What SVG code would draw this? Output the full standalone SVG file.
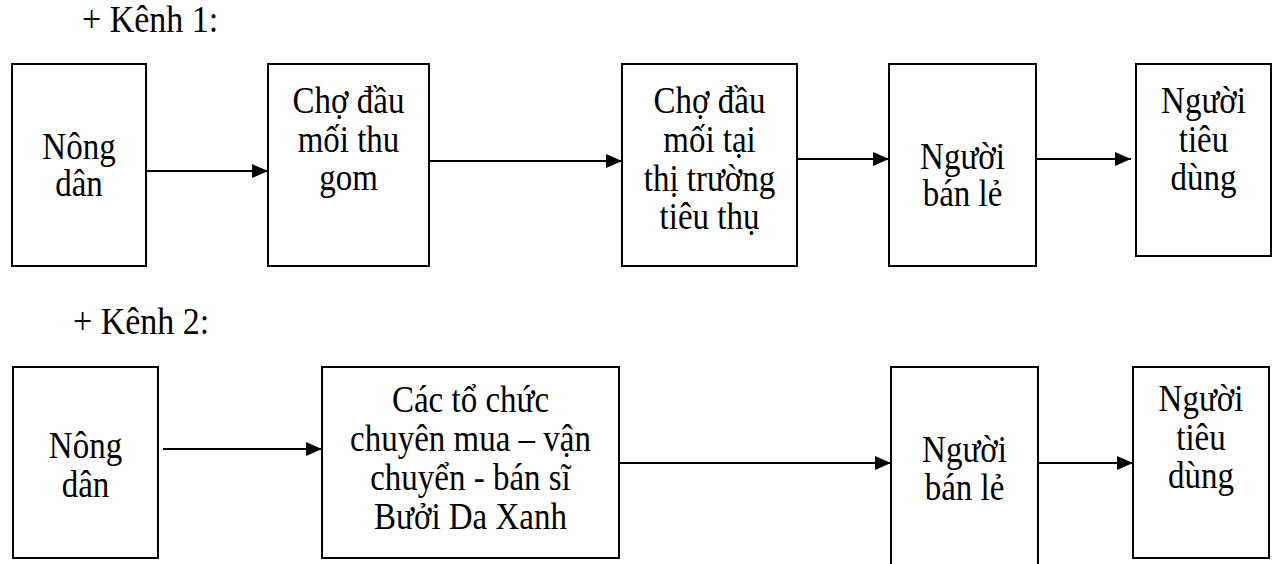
<svg xmlns="http://www.w3.org/2000/svg" width="1278" height="564" viewBox="0 0 1278 564">
<style>
.box{fill:#fff;stroke:#000;stroke-width:2}
.t{font-family:"Liberation Serif","Times New Roman",serif;font-size:33px;fill:#000;text-anchor:middle}
.h{font-family:"Liberation Serif","Times New Roman",serif;font-size:34px;fill:#000}
.c{stroke:#000;stroke-width:2;fill:none;marker-end:url(#arr)}
</style>
<defs>
<marker id="arr" viewBox="0 0 16 14" refX="16" refY="7" markerWidth="16" markerHeight="14" markerUnits="userSpaceOnUse" orient="auto">
<path d="M0,0 L16,7 L0,14 Z" fill="#000"/>
</marker>
</defs>
<rect width="1278" height="564" fill="#fff"/>
<text class="h" x="82" transform="translate(0,32) scale(1,1.12)">+ Kênh 1:</text>
<text class="h" x="73" transform="translate(0,334) scale(1,1.12)">+ Kênh 2:</text>

<g id="k1-nongdan">
<rect class="box" x="12" y="64" width="134" height="202"/>
<text class="t" x="79" transform="translate(0,159) scale(1,1.12)">Nông</text>
<text class="t" x="79" transform="translate(0,196) scale(1,1.12)">dân</text>
</g>
<g id="k1-chothugom">
<rect class="box" x="268" y="64" width="161" height="202"/>
<text class="t" x="348.5" transform="translate(0,113) scale(1,1.12)">Chợ đầu</text>
<text class="t" x="348.5" transform="translate(0,152) scale(1,1.12)">mối thu</text>
<text class="t" x="348.5" transform="translate(0,190) scale(1,1.12)">gom</text>
</g>
<g id="k1-chotieuthu">
<rect class="box" x="622" y="64" width="175" height="202"/>
<text class="t" x="709.5" transform="translate(0,113) scale(1,1.12)">Chợ đầu</text>
<text class="t" x="709.5" transform="translate(0,152) scale(1,1.12)">mối tại</text>
<text class="t" x="709.5" transform="translate(0,191) scale(1,1.12)">thị trường</text>
<text class="t" x="709.5" transform="translate(0,229) scale(1,1.12)">tiêu thụ</text>
</g>
<g id="k1-banle">
<rect class="box" x="889" y="64" width="147" height="202"/>
<text class="t" x="962.5" transform="translate(0,169) scale(1,1.12)">Người</text>
<text class="t" x="962.5" transform="translate(0,206) scale(1,1.12)">bán lẻ</text>
</g>
<g id="k1-tieudung">
<rect class="box" x="1136" y="64" width="135" height="192"/>
<text class="t" x="1203.5" transform="translate(0,113) scale(1,1.12)">Người</text>
<text class="t" x="1203.5" transform="translate(0,152) scale(1,1.12)">tiêu</text>
<text class="t" x="1203.5" transform="translate(0,190) scale(1,1.12)">dùng</text>
</g>

<g id="k2-nongdan">
<rect class="box" x="13" y="367" width="145" height="191"/>
<text class="t" x="85.5" transform="translate(0,458) scale(1,1.12)">Nông</text>
<text class="t" x="85.5" transform="translate(0,497) scale(1,1.12)">dân</text>
</g>
<g id="k2-tochuc">
<rect class="box" x="322" y="367" width="297" height="191"/>
<text class="t" x="470.5" transform="translate(0,412) scale(1,1.12)">Các tổ chức</text>
<text class="t" x="470.5" transform="translate(0,451) scale(1,1.12)">chuyên mua – vận</text>
<text class="t" x="470.5" transform="translate(0,490) scale(1,1.12)">chuyển - bán sĩ</text>
<text class="t" x="470.5" transform="translate(0,529) scale(1,1.12)">Bưởi Da Xanh</text>
</g>
<g id="k2-banle">
<rect class="box" x="891" y="367" width="147" height="210"/>
<text class="t" x="964.5" transform="translate(0,462) scale(1,1.12)">Người</text>
<text class="t" x="964.5" transform="translate(0,500) scale(1,1.12)">bán lẻ</text>
</g>
<g id="k2-tieudung">
<rect class="box" x="1133" y="367" width="136" height="191"/>
<text class="t" x="1201" transform="translate(0,411) scale(1,1.12)">Người</text>
<text class="t" x="1201" transform="translate(0,450) scale(1,1.12)">tiêu</text>
<text class="t" x="1201" transform="translate(0,488) scale(1,1.12)">dùng</text>
</g>

<g id="connectors">
<line class="c" x1="146" y1="171" x2="268" y2="171"/>
<line class="c" x1="429" y1="161" x2="622" y2="161"/>
<line class="c" x1="797" y1="159" x2="889" y2="159"/>
<line class="c" x1="1036" y1="159" x2="1131" y2="159"/>
<line class="c" x1="163" y1="449" x2="322" y2="449"/>
<line class="c" x1="619" y1="463" x2="891" y2="463"/>
<line class="c" x1="1038" y1="463" x2="1133" y2="463"/>
</g>
</svg>
